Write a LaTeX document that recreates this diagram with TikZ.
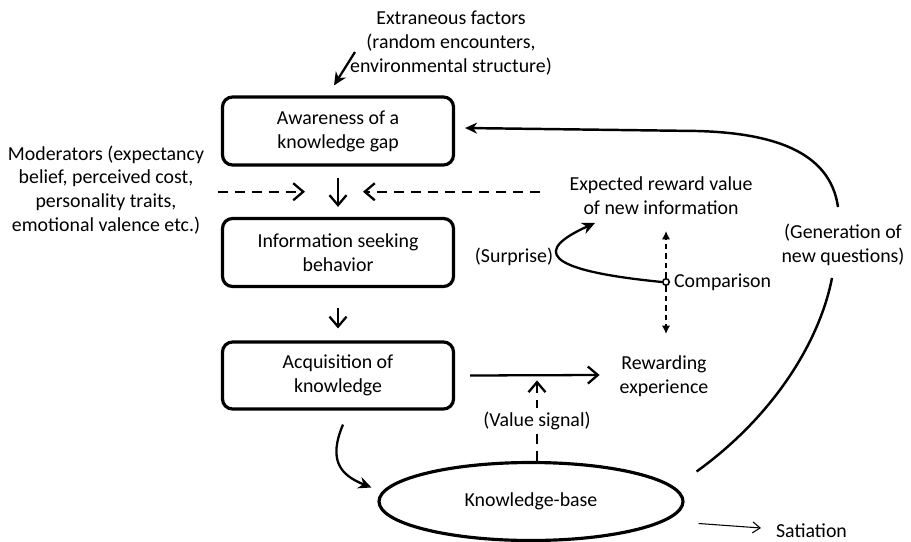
\documentclass[tikz,border=0pt]{standalone}
\usepackage{fontspec}
\setmainfont{Carlito}
\usepackage{tikz}
\usetikzlibrary{calc,shapes.geometric,arrows.meta}

\tikzset{
  box/.style={draw, line width=1.8pt, rounded corners=2mm, minimum width=4.62cm,
    minimum height=1.36cm, align=center},
  txt/.style={align=center, inner sep=1pt},
  link/.style={line width=1.3pt, -{Straight Barb[length=2mm,width=3.4mm]}},
  clink/.style={line width=1.3pt, -{Stealth[length=2.6mm,width=2.4mm]}},
  dlink/.style={link, dash pattern=on 2mm off 1.4mm},
  slink/.style={line width=1.1pt, dash pattern=on 1.1mm off 0.8mm, -{Latex[length=1.7mm,width=1.7mm]}}
}

\begin{document}
\begin{tikzpicture}[font=\fontsize{11.3}{13.6}\selectfont]
\useasboundingbox (0,0) rectangle (18.22,10.82);

% Main chain
\node[box] (aware) at (6.76,8.20) {Awareness of a\\knowledge gap};
\node[box] (seek) at (6.76,5.77) {Information seeking\\behavior};
\node[box, minimum height=1.34cm] (acq) at (6.76,3.31) {Acquisition of\\knowledge};
\node[draw, ellipse, line width=1.8pt, minimum width=6.08cm, minimum height=1.56cm, inner sep=0] (kb) at (10.62,0.79) {Knowledge-base};

% Labels
\node[txt] (extr) at (9.02,9.96) {Extraneous factors\\(random encounters,\\environmental structure)};
\node[txt] (mod) at (2.12,7.02) {Moderators (expectancy\\belief, perceived cost,\\personality traits,\\emotional valence etc.)};
\node[txt] (expect) at (13.22,6.90) {Expected reward value\\of new information};
\node[txt] (reward) at (13.28,3.30) {Rewarding\\experience};
\node[draw, circle, line width=0.9pt, fill=white, minimum size=1.3mm, inner sep=0] (comp) at (13.32,5.18) {};
\node[txt, anchor=west] (comptxt) at (13.44,5.18) {Comparison};
\node[txt] (surp) at (10.28,5.68) {(Surprise)};
\node[txt] (gen) at (16.86,5.92) {(Generation of\\new questions)};
\node[txt, anchor=west] (sat) at (15.48,0.20) {Satiation};

% Arrows along the chain
\coordinate (mid) at ($(aware.south)!0.5!(seek.north)$);
\draw[clink] (7.10,9.78) -- ($(aware.north)+(-0.08,0.2)$);
\draw[link] ($(aware.south)+(0,-0.22)$) -- ($(seek.north)+(0,0.2)$);
\draw[link] ($(seek.south)+(0,-0.4)$) -- ($(acq.north)+(0,0.24)$);
\draw[clink] ($(acq.south)+(0.1,-0.28)$) .. controls (6.56,1.62) and (6.80,1.32) .. ($(kb.west)+(-0.12,0.28)$);
\draw[link] ($(acq.east)+(0.3,0)$) -- ($(reward.west)+(-0.36,0.02)$);

% Moderating influences
\draw[dlink] ($(mod.east |- mid)+(0.23,0)$) -- ($(mid)+(-0.66,0)$);
\draw[dlink] ($(expect.west |- mid)+(-0.55,0)$) -- ($(mid)+(0.5,0)$);

% Value signal
\draw[dlink] ($(kb.north)+(0.12,0)$) -- ++(0,1.61) node[midway, txt, fill=white, inner sep=2pt] {(Value signal)};

% Comparison
\draw[slink] (comp.north) -- ++(0,0.94);
\draw[slink] (comp.south) -- ++(0,-0.96);
\draw[clink] (comp.west) .. controls (10.80,5.42) and (10.70,5.82) .. (11.90,6.36);

% Generation of new questions
\draw[line width=1.4pt] ($(kb.east)+(0.24,0.6)$) .. controls (15.50,2.52) and (16.40,4.02) .. ($(gen.south)+(-0.22,-0.2)$);
\draw[line width=1.4pt, -{Stealth[length=2.4mm,width=2.2mm]}] ($(gen.north)+(-0.1,0.3)$) .. controls (16.60,7.82) and (15.40,8.16) .. (13.94,8.20) -- ($(aware.east)+(0.2,0.06)$);

% Satiation
\draw[line width=0.6pt, -{Straight Barb[length=1.5mm,width=2.2mm]}] ($(kb.east)+(0.28,-0.44)$) -- ($(sat.west)+(-0.26,0.06)$);
\end{tikzpicture}
\end{document}
